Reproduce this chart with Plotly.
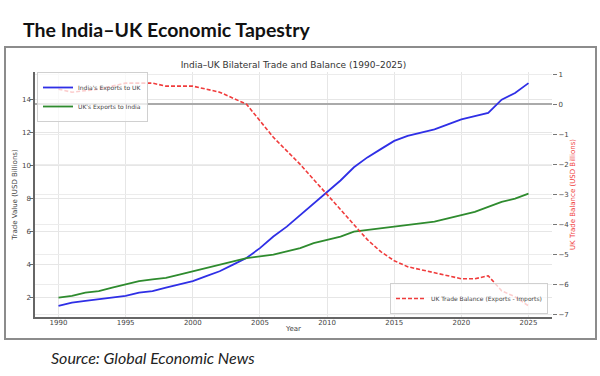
import plotly.graph_objects as go

years = list(range(1990, 2026))
india_exports = [1.5, 1.7, 1.8, 1.9, 2.0, 2.1, 2.3, 2.4, 2.6, 2.8,
                 3.0, 3.3, 3.6, 4.0, 4.4, 5.0, 5.7, 6.3, 7.0, 7.7,
                 8.4, 9.1, 9.9, 10.5, 11.0, 11.5, 11.8, 12.0, 12.2, 12.5,
                 12.8, 13.0, 13.2, 14.0, 14.4, 15.0]
uk_exports = [2.0, 2.1, 2.3, 2.4, 2.6, 2.8, 3.0, 3.1, 3.2, 3.4,
              3.6, 3.8, 4.0, 4.2, 4.4, 4.5, 4.6, 4.8, 5.0, 5.3,
              5.5, 5.7, 6.0, 6.1, 6.2, 6.3, 6.4, 6.5, 6.6, 6.8,
              7.0, 7.2, 7.5, 7.8, 8.0, 8.3]
uk_balance = [0.5, 0.4, 0.45, 0.5, 0.6, 0.7, 0.7, 0.7, 0.6, 0.6,
              0.6, 0.5, 0.4, 0.2, 0.0, -0.55, -1.1, -1.55, -2.0, -2.5,
              -3.0, -3.5, -4.0, -4.5, -4.9, -5.2, -5.4, -5.5, -5.6, -5.7,
              -5.8, -5.8, -5.7, -6.2, -6.4, -6.7]
x_ticks = [1990, 1995, 2000, 2005, 2010, 2015, 2020, 2025]

headline = "The India\u2013UK Economic Tapestry"
chart_title = "India\u2013UK Bilateral Trade and Balance (1990\u20132025)"
source = "Source: Global Economic News"

W, H = 600, 376
L, R, T, B = 35, 48, 72, 59
pw, ph = W - L - R, H - T - B

def px_x(p):
    return (p - L) / pw

def px_y(p):
    return (H - B - p) / ph

tick_font = dict(family="DejaVu Sans", size=7, color="#444")

fig = go.Figure()
fig.add_trace(go.Scatter(x=years, y=india_exports, mode="lines",
                         name="India's Exports to UK",
                         line=dict(color="#2f2fe6", width=1.8),
                         legend="legend"))
fig.add_trace(go.Scatter(x=years, y=uk_exports, mode="lines",
                         name="UK's Exports to India",
                         line=dict(color="#2e8b2e", width=1.8),
                         legend="legend"))
fig.add_trace(go.Scatter(x=years, y=uk_balance, mode="lines",
                         name="UK Trade Balance (Exports - Imports)",
                         line=dict(color="#f03c3c", width=1.6, dash="4px,2px"),
                         yaxis="y2", legend="legend2"))

legend_style = dict(bgcolor="rgba(255,255,255,0.75)", bordercolor="#d0d0d0",
                    borderwidth=1, font=dict(family="DejaVu Sans", size=6, color="#444"),
                    itemwidth=30, tracegroupgap=0)

fig.update_layout(
    width=W, height=H,
    margin=dict(l=L, r=R, t=T, b=B, autoexpand=False),
    paper_bgcolor="white", plot_bgcolor="white",
    showlegend=True,
    title=dict(text=chart_title, x=0.5, xref="paper", xanchor="center",
               y=1 - 65 / H, yref="container", yanchor="middle",
               font=dict(family="DejaVu Sans", size=9, color="#333")),
    xaxis=dict(range=[1988.25, 2026.75], tickvals=x_ticks, automargin=False,
               showgrid=True, gridcolor="#e6e6e6", gridwidth=1,
               showline=True, linecolor="#666", linewidth=1.5,
               ticks="", tickfont=tick_font, zeroline=False, ticklabelstandoff=-2,
               title=dict(text="Year", font=dict(family="DejaVu Sans", size=7, color="#444"),
                          standoff=0)),
    yaxis=dict(range=[0.825, 15.675], tick0=2, dtick=2, automargin=False,
               showgrid=True, gridcolor="#e6e6e6", gridwidth=1,
               showline=True, linecolor="#666", linewidth=1.5,
               ticks="outside", ticklen=3, tickcolor="#666", ticklabelstandoff=-2,
               tickfont=tick_font, zeroline=False,
               title=dict(text="Trade Value (USD Billions)",
                          font=dict(family="DejaVu Sans", size=7, color="#444"),
                          standoff=3)),
    yaxis2=dict(range=[-7.07, 1.07], tick0=0, dtick=1, overlaying="y", side="right",
                automargin=False,
                showgrid=True, gridcolor="#ececec", gridwidth=1,
                showline=False, ticks="outside", ticklen=4, tickcolor="#777",
                tickfont=tick_font,
                zeroline=True, zerolinecolor="#aaaaaa", zerolinewidth=1.5,
                title=dict(text="UK Trade Balance (USD Billions)",
                           font=dict(family="DejaVu Sans", size=7, color="#f03c3c"),
                           standoff=0)),
    legend=dict(x=px_x(37), y=1.0, xanchor="left", yanchor="top", **legend_style),
    legend2=dict(x=px_x(548), y=px_y(314), xanchor="right", yanchor="bottom", **legend_style),
    annotations=[
        dict(text="<b>" + headline + "</b>", xref="paper", yref="paper",
             x=px_x(21), y=px_y(30), xanchor="left", yanchor="middle",
             showarrow=False, font=dict(family="Lato", size=19.5, color="#111")),
        dict(text="<i>" + source + "</i>", xref="paper", yref="paper",
             x=px_x(49), y=px_y(357), xanchor="left", yanchor="middle",
             showarrow=False, font=dict(family="Lato", size=16, color="#222")),
    ],
    shapes=[
        dict(type="rect", xref="paper", yref="paper",
             x0=px_x(5), x1=px_x(596), y0=px_y(339), y1=px_y(47),
             line=dict(color="#8c8c8c", width=2), fillcolor="rgba(0,0,0,0)",
             layer="below"),
    ],
)

fig.write_html("out.html", config={"displayModeBar": False},
               post_script="document.body.style.margin='0';document.body.style.overflow='hidden';")
